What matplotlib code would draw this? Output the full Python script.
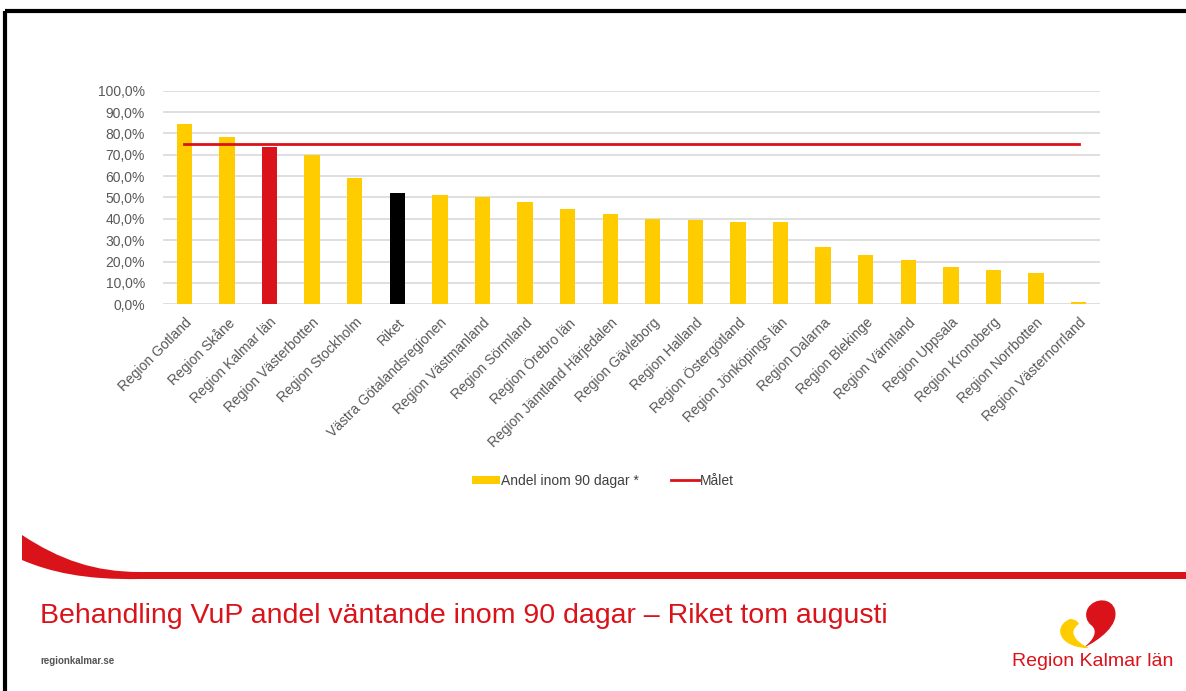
import matplotlib.pyplot as plt
import numpy as np
from matplotlib.patches import Patch, PathPatch
from matplotlib.lines import Line2D
from matplotlib.path import Path
from matplotlib.ticker import FuncFormatter

plt.rcParams['font.family'] = ['Liberation Sans', 'DejaVu Sans']

# Data (andel inom 90 dagar, %)
regions = ['Region Gotland', 'Region Skåne', 'Region Kalmar län', 'Region Västerbotten',
           'Region Stockholm', 'Riket', 'Västra Götalandsregionen', 'Region Västmanland',
           'Region Sörmland', 'Region Örebro län', 'Region Jämtland Härjedalen',
           'Region Gävleborg', 'Region Halland', 'Region Östergötland',
           'Region Jönköpings län', 'Region Dalarna', 'Region Blekinge', 'Region Värmland',
           'Region Uppsala', 'Region Kronoberg', 'Region Norrbotten', 'Region Västernorrland']
andel = [84.6, 78.4, 73.8, 69.8, 58.9, 52.0, 51.0, 50.2,
         47.9, 44.8, 42.4, 40.1, 39.3, 38.5,
         38.5, 26.8, 23.1, 20.9, 17.5, 15.9, 14.5, 1.2]
malet = 75.0

yellow = '#FFCC00'
red = '#DA121A'
bar_colors = []
for r in regions:
    if r == 'Region Kalmar län':
        bar_colors.append(red)
    elif r == 'Riket':
        bar_colors.append('black')
    else:
        bar_colors.append(yellow)

W, H = 1186, 691
fig = plt.figure(figsize=(W / 100, H / 100), dpi=100)

# overlay for the slide decorations (pixel coordinates)
deco = fig.add_axes([0, 0, 1, 1])
deco.set_xlim(0, W)
deco.set_ylim(H, 0)
deco.axis('off')

# chart
ax = fig.add_axes([163 / W, 1 - 304.3 / H, (1100 - 163) / W, (304.3 - 90.7) / H])
x = np.arange(len(regions))
ax.bar(x, andel, width=0.36, color=bar_colors, zorder=3)
ax.plot(x, [malet] * len(x), color=red, linewidth=2, zorder=4)
ax.set_xlim(-0.5, len(regions) - 0.5)
ax.set_ylim(0, 100)
ax.set_yticks(np.arange(0, 101, 10))
ax.yaxis.set_major_formatter(FuncFormatter(lambda v, p: ('%.1f%%' % v).replace('.', ',')))
ax.grid(axis='y', color='#D9D9D9', linewidth=1.2, zorder=0)
ax.set_axisbelow(True)
for s in ax.spines.values():
    s.set_visible(False)
ax.tick_params(axis='both', length=0)
ax.tick_params(axis='y', labelsize=10, labelcolor='#595959', pad=13)
ax.set_xticks(x)
ax.set_xticklabels(regions, rotation=45, ha='right', rotation_mode='anchor',
                   fontsize=10, color='#595959')
ax.tick_params(axis='x', pad=8)

handles = [Patch(facecolor=yellow, edgecolor='none', label='Andel inom 90 dagar *'),
           Line2D([0], [0], color=red, linewidth=2, label='Målet')]
fig.legend(handles=handles, loc='center', bbox_to_anchor=(603 / W, 1 - 481 / H),
           ncol=2, frameon=False, fontsize=10, handlelength=2.0, handleheight=0.55,
           handletextpad=0.1, columnspacing=2.3, labelcolor='#404040')

# frame lines (top and left)
deco.plot([5, W], [10.5, 10.5], color='black', linewidth=3, solid_capstyle='butt')
deco.plot([5, 5], [10.5, H], color='black', linewidth=3, solid_capstyle='butt')

# red swoosh + band
sw = Path([(22, 535), (60, 560), (95, 572), (140, 572), (W, 572), (W, 579),
           (140, 579), (85, 580), (50, 572), (22, 560), (22, 535)],
          [Path.MOVETO, Path.CURVE4, Path.CURVE4, Path.CURVE4, Path.LINETO, Path.LINETO,
           Path.LINETO, Path.CURVE4, Path.CURVE4, Path.CURVE4, Path.CLOSEPOLY])
deco.add_patch(PathPatch(sw, facecolor=red, edgecolor='none'))

# title and footer
deco.text(40, 616, 'Behandling VuP andel väntande inom 90 dagar – Riket tom augusti',
          color=red, fontsize=20.5, ha='left', va='center')
deco.text(40, 661, 'regionkalmar.se', color='#555555', fontsize=7, fontweight='bold',
          ha='left', va='center')

# logo
heart_red = Path([(1083, 648), (1100, 640), (1119, 625), (1115, 610),
                  (1112, 598), (1095, 597), (1088, 608),
                  (1084, 615), (1087, 622), (1091, 625),
                  (1099, 631), (1093, 641), (1083, 648)],
                 [Path.MOVETO, Path.CURVE4, Path.CURVE4, Path.CURVE4,
                  Path.CURVE4, Path.CURVE4, Path.CURVE4,
                  Path.CURVE4, Path.CURVE4, Path.CURVE4,
                  Path.CURVE4, Path.CURVE4, Path.CURVE4])
deco.add_patch(PathPatch(heart_red, facecolor=red, edgecolor='none'))
heart_yel = Path([(1070, 619), (1053, 626), (1058, 646), (1085, 648),
                  (1089, 648), (1076, 642), (1067, 632), (1079, 624),
                  (1077, 620), (1073, 619), (1070, 619)],
                 [Path.MOVETO, Path.CURVE4, Path.CURVE4, Path.CURVE4,
                  Path.LINETO, Path.CURVE4, Path.CURVE4, Path.CURVE4,
                  Path.CURVE4, Path.CURVE4, Path.CURVE4])
deco.add_patch(PathPatch(heart_yel, facecolor=yellow, edgecolor='none'))
deco.text(1093, 662, 'Region Kalmar län', color=red, fontsize=14, ha='center', va='center')

fig.savefig('out.png', dpi=100)
